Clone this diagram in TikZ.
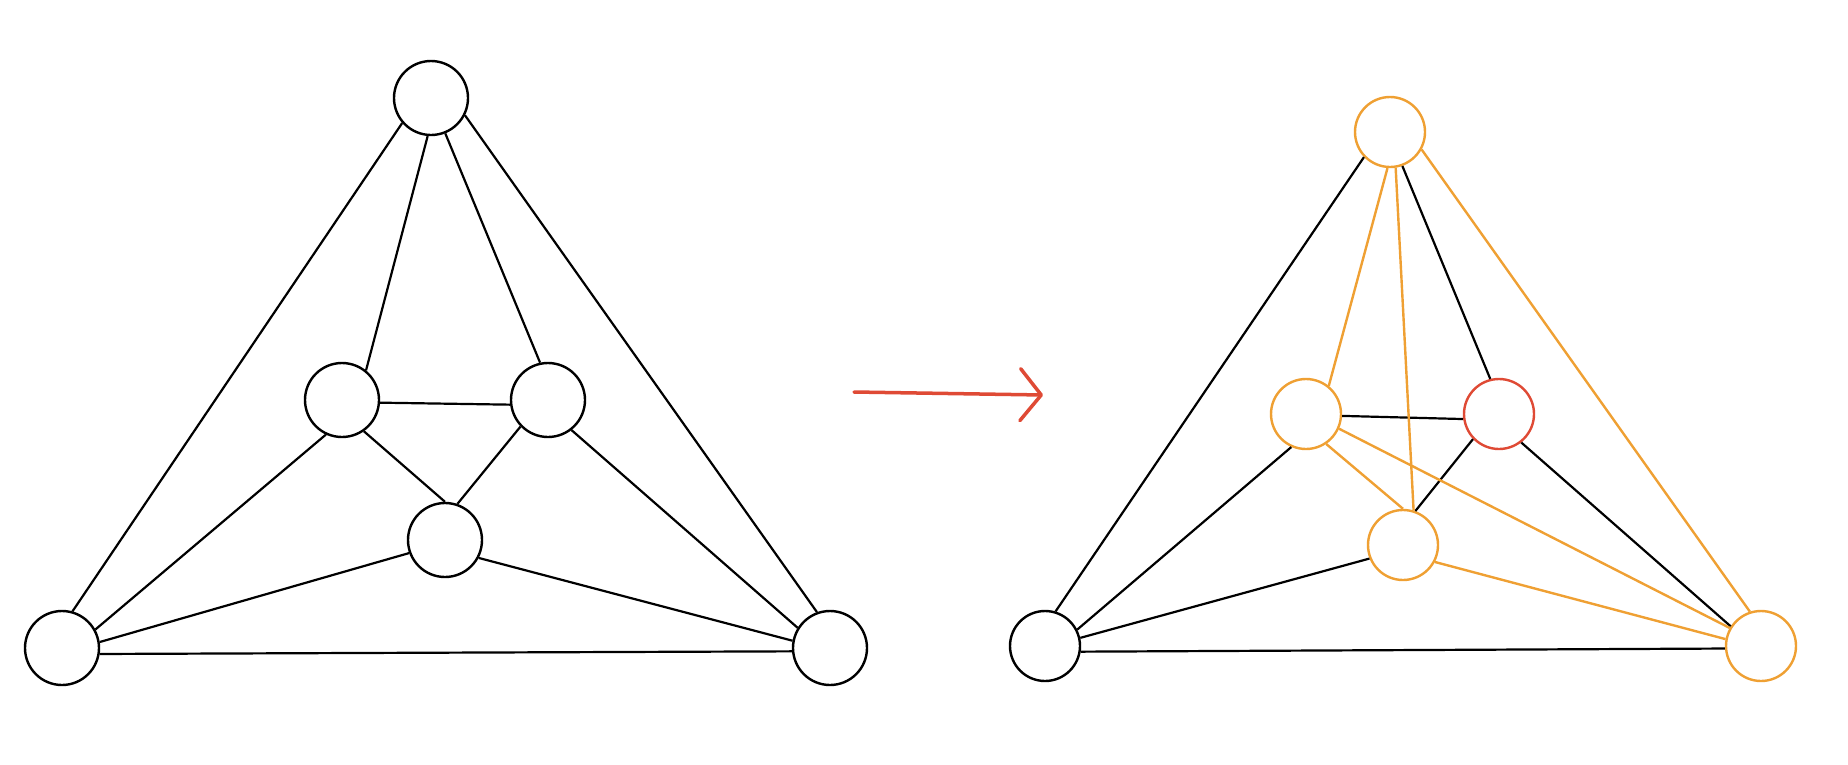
\documentclass[tikz,border=0pt]{standalone}
\usepackage{tikz}
\usetikzlibrary{arrows.meta}

\definecolor{hlorange}{HTML}{EFA033}
\definecolor{hlred}{HTML}{DF4A35}

\tikzset{
  vert/.style={circle,draw=black,line width=2.4pt,fill=white,minimum size=#1,inner sep=0pt},
  vert/.default=74pt,
  edge/.style={line width=2.2pt,black},
  hledge/.style={line width=2.4pt,hlorange},
}

\begin{document}
\begin{tikzpicture}[x=1pt,y=-1pt]
        \useasboundingbox (0,0) rectangle (1848,764);
        % left graph
        \node[vert] (t) at (431,98) {};
        \node[vert] (a) at (342,400) {};
        \node[vert] (b) at (548,400) {};
        \node[vert] (c) at (445,540) {};
        \node[vert] (l) at (62,648) {};
        \node[vert] (r) at (830,648) {};
        \foreach \u/\i/\v/\j in {t/221/l/74, t/265/a/51, t/292/b/102, t/333/r/110,
                                 a/356/b/187, a/305/c/90, b/224/c/71, a/245/l/29,
                                 b/308/r/148, c/200/l/9, c/332/r/169, l/351/r/185}
            \draw[edge] (\u.\i) -- (\v.\j);
        % arrow
        \coordinate (p) at (854,392);
        \coordinate (q) at (1043,395);
        \draw[hlred,line width=3.5pt,line cap=round,-{Straight Barb[length=21pt,width=52pt,round]}] (p) -- (q);
        % right graph
        \node[vert=70pt,draw=hlorange] (t2) at (1390,132) {};
        \node[vert=70pt,draw=hlorange] (a2) at (1306,414) {};
        \node[vert=70pt,draw=hlred] (b2) at (1499,414) {};
        \node[vert=70pt,draw=hlorange] (c2) at (1403,545) {};
        \node[vert=70pt] (l2) at (1045,646) {};
        \node[vert=70pt,draw=hlorange] (r2) at (1761,646) {};
        \foreach \u/\i/\v/\j in {t2/224/l2/73, t2/290/b2/104, a2/357/b2/188, b2/224/c2/70,
                                 a2/246/l2/27, b2/308/r2/147, c2/202/l2/13, l2/351/r2/184}
            \draw[edge] (\u.\i) -- (\v.\j);
        \foreach \u/\i/\v/\j in {t2/266/a2/51, t2/331/r2/108, a2/304/c2/90, c2/332/r2/169,
                                 t2/279/c2/73, a2/336/r2/150}
            \draw[hledge] (\u.\i) -- (\v.\j);
    \end{tikzpicture}
\end{document}
